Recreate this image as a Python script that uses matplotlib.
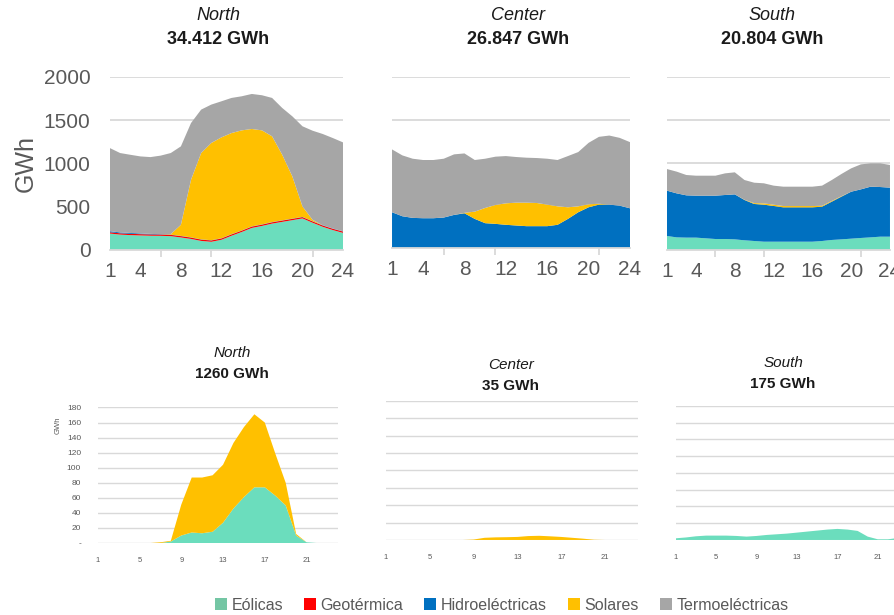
import matplotlib
matplotlib.use('Agg')
import matplotlib.pyplot as plt
from matplotlib.patches import Patch

plt.rcParams['font.family'] = ['Liberation Sans', 'DejaVu Sans']

hours = list(range(1, 25))

# generacion por hora (GWh) - fila superior
north_eol = [190, 178, 172, 168, 165, 164, 160, 145, 128, 105, 95, 118, 165, 208, 255, 278, 305, 325, 345, 365, 315, 268, 230, 198]
north_geo = [15, 15, 15, 15, 15, 15, 15, 15, 15, 15, 15, 15, 15, 15, 15, 15, 15, 15, 15, 15, 15, 15, 15, 15]
north_hid = [12, 10, 10, 8, 6, 4, 3, 3, 3, 3, 3, 3, 3, 3, 3, 3, 3, 3, 3, 3, 3, 3, 3, 3]
north_sol = [0, 0, 0, 0, 0, 0, 5, 128, 666, 998, 1124, 1166, 1169, 1157, 1126, 1087, 991, 758, 487, 120, 15, 0, 0, 0]
north_ter = [961, 918, 904, 891, 888, 908, 938, 907, 656, 502, 444, 417, 406, 394, 405, 406, 444, 541, 695, 927, 1031, 1055, 1046, 1028]

center_eol = [0] * 24
center_geo = [0] * 24
center_hid = [418, 371, 352, 348, 348, 356, 387, 406, 340, 290, 282, 271, 263, 255, 255, 255, 271, 340, 418, 476, 507, 507, 495, 464]
center_sol = [0, 0, 0, 0, 0, 0, 0, 5, 85, 178, 221, 251, 267, 275, 271, 252, 216, 136, 69, 35, 10, 0, 0, 0]
center_ter = [735, 712, 692, 681, 681, 688, 708, 695, 604, 576, 565, 553, 534, 526, 526, 537, 542, 599, 635, 719, 783, 808, 793, 774]

south_eol = [162, 146, 143, 143, 135, 127, 127, 123, 112, 104, 96, 96, 96, 96, 96, 96, 104, 116, 123, 131, 139, 146, 154, 154]
south_geo = [0] * 24
south_hid = [524, 509, 489, 485, 493, 501, 509, 520, 466, 428, 428, 413, 397, 397, 397, 397, 397, 443, 494, 543, 562, 586, 574, 567]
south_sol = [0, 0, 0, 0, 0, 0, 0, 0, 3, 10, 15, 15, 15, 15, 15, 15, 10, 8, 5, 0, 0, 0, 0, 0]
south_ter = [250, 251, 235, 231, 231, 231, 250, 255, 228, 236, 232, 220, 224, 224, 224, 224, 233, 242, 257, 270, 289, 270, 274, 262]

# vertimientos por hora (GWh) - fila inferior
bn_eol = [0, 0, 0, 0, 0, 0, 0, 2, 10, 14, 13, 15, 27, 46, 61, 74, 74, 63, 50, 10, 1, 0, 0, 0]
bn_sol = [0, 0, 0, 0, 0, 0, 1, 1, 41, 73, 74, 75, 77, 87, 93, 97, 86, 56, 30, 2, 0, 0, 0, 0]
bc_eol = [0] * 24
bc_sol = [0, 0, 0, 0, 0, 0, 0, 0, 0.5, 2.5, 3, 3.2, 3.5, 4.5, 4.8, 4.2, 3.5, 2.5, 1.5, 0.3, 0, 0, 0, 0]
bs_eol = [2, 3, 4.4, 5.2, 5.2, 5.2, 4.8, 4, 4.8, 6, 6.8, 7.6, 8.8, 10, 11.2, 12.4, 13.2, 12.4, 10.8, 4, 0.8, 0.8, 2.4, 3]
bs_sol = [0] * 24

regions = ['North', 'Center', 'South']
top_totals = ['34.412 GWh', '26.847 GWh', '20.804 GWh']
bottom_totals = ['1260 GWh', '35 GWh', '175 GWh']
top_xticks = [1, 4, 8, 12, 16, 20, 24]
bottom_xticks = [1, 5, 9, 13, 17, 21]

labels = ['Eólicas', 'Geotérmica', 'Hidroeléctricas', 'Solares', 'Termoeléctricas']
colors = ['#6BDDBD', '#FF0000', '#0070C0', '#FFC000', '#A6A6A6']
legend_colors = ['#74C6A4', '#FF0000', '#0070C0', '#FFC000', '#A6A6A6']

grey = '#595959'
gridc = '#D9D9D9'

fig = plt.figure(figsize=(8.94, 6.15), dpi=100)

top_data = [
    (north_eol, north_geo, north_hid, north_sol, north_ter),
    (center_eol, center_geo, center_hid, center_sol, center_ter),
    (south_eol, south_geo, south_hid, south_sol, south_ter),
]
top_pos = [[0.123, 0.5935, 0.2607, 0.2813],
           [0.4385, 0.5968, 0.2662, 0.278],
           [0.746, 0.5935, 0.2495, 0.2813]]
top_title_x = [218, 518, 772]

for i, (data, pos) in enumerate(zip(top_data, top_pos)):
    ax = fig.add_axes(pos)
    ax.stackplot(hours, *data, colors=colors, linewidth=0, zorder=2)
    ax.set_xlim(1, 24)
    ax.set_ylim(0, 2000)
    ax.set_yticks([0, 500, 1000, 1500, 2000])
    ax.grid(axis='y', color=gridc, linewidth=1.3, zorder=0)
    ax.set_axisbelow(True)
    for s in ['top', 'right', 'left']:
        ax.spines[s].set_visible(False)
    ax.spines['bottom'].set_color(gridc)
    ax.spines['bottom'].set_linewidth(1.3)
    ax.spines['bottom'].set_zorder(3)
    ax.set_xticks(top_xticks)
    ax.set_xticks([1, 6, 11, 16, 21], minor=True)
    ax.tick_params(axis='x', which='major', length=0, labelsize=15, labelcolor=grey, pad=9)
    ax.tick_params(axis='x', which='minor', length=5, color=gridc, width=1.3)
    if i == 0:
        ax.tick_params(axis='y', length=0, labelsize=15, labelcolor=grey, pad=14)
        ax.set_ylabel('GWh', fontsize=18, color=grey, labelpad=4)
    else:
        ax.tick_params(axis='y', length=0, labelleft=False)
    fig.text(top_title_x[i] / 894, 1 - 16 / 615, regions[i], ha='center', va='center',
             fontsize=13, style='italic', color='#1A1A1A')
    fig.text(top_title_x[i] / 894, 1 - 40 / 615, top_totals[i], ha='center', va='center',
             fontsize=13, weight='bold', color='#1A1A1A')

bottom_data = [(bn_eol, bn_sol), (bc_eol, bc_sol), (bs_eol, bs_sol)]
bottom_pos = [[0.1093, 0.117, 0.2687, 0.2204],
              [0.4318, 0.122, 0.2817, 0.226],
              [0.756, 0.122, 0.2598, 0.218]]
bottom_ymax = [180, 160, 160]
bottom_title_x = [232, 511, 783]
bottom_title_y = [353, 365, 363]

for i, (data, pos) in enumerate(zip(bottom_data, bottom_pos)):
    ax = fig.add_axes(pos)
    ax.stackplot(hours, data[0], data[1], colors=[colors[0], colors[3]], linewidth=0, zorder=2)
    ax.set_xlim(1, 24)
    ax.set_ylim(0, bottom_ymax[i])
    yt = list(range(0, bottom_ymax[i] + 1, 20))
    ax.set_yticks(yt)
    ax.grid(axis='y', color=gridc, linewidth=1.0, zorder=0)
    ax.set_axisbelow(True)
    for s in ax.spines.values():
        s.set_visible(False)
    ax.set_xticks(bottom_xticks)
    ax.tick_params(axis='x', length=0, labelsize=5.5, labelcolor=grey, pad=10)
    if i == 0:
        ax.set_yticklabels(['-'] + [str(v) for v in yt[1:]])
        ax.tick_params(axis='y', length=0, labelsize=6, labelcolor=grey, pad=12)
        ax.set_ylabel('GWh', fontsize=5.5, color=grey, labelpad=3)
        ax.yaxis.set_label_coords(-0.15, 0.87)
    else:
        ax.tick_params(axis='y', length=0, labelleft=False)
    fig.text(bottom_title_x[i] / 894, 1 - bottom_title_y[i] / 615, regions[i], ha='center', va='center',
             fontsize=11, style='italic', color='#1A1A1A')
    fig.text(bottom_title_x[i] / 894, 1 - (bottom_title_y[i] + 21) / 615, bottom_totals[i], ha='center',
             va='center', fontsize=11, weight='bold', color='#1A1A1A')

handles = [Patch(facecolor=c, edgecolor='none') for c in legend_colors]
leg = fig.legend(handles, labels, loc='center', bbox_to_anchor=(0.561, 1 - 605 / 615), ncol=5,
                 frameon=False, fontsize=11.5, handlelength=0.75, handleheight=0.75,
                 handletextpad=0.3, columnspacing=1.3)
for t in leg.get_texts():
    t.set_color(grey)

fig.savefig('out.png', dpi=100)
